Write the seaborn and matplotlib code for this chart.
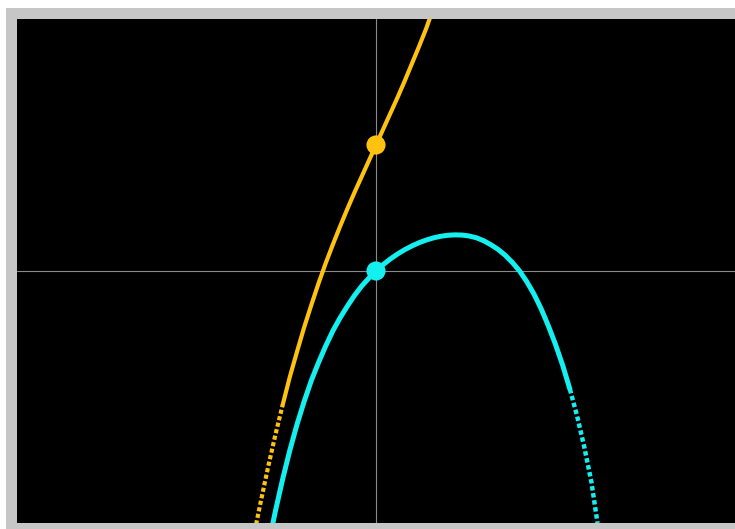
import numpy as np
import pandas as pd
import matplotlib
matplotlib.use("Agg")
import matplotlib.pyplot as plt
from matplotlib.patches import Rectangle
import seaborn as sns

# points (axis units, ~72 px per unit, origin at the crosshair)
cyan_x = [-1.44, -1.4, -1.3, -1.2, -1.1, -1.0, -0.9, -0.8, -0.7, -0.6, -0.5, -0.4,
          -0.3, -0.2, -0.1, 0.0, 0.1, 0.2, 0.3, 0.4, 0.5, 0.6, 0.7, 0.8, 0.9, 1.0,
          1.1, 1.2, 1.3, 1.4, 1.5, 1.6, 1.7, 1.8, 1.9, 2.0, 2.1, 2.2, 2.3, 2.4,
          2.5, 2.6, 2.7, 2.8, 2.9, 3.0, 3.085]
cyan_y = [-3.52, -3.33, -2.89, -2.49, -2.13, -1.81, -1.52, -1.27, -1.04, -0.83, -0.65, -0.49,
          -0.34, -0.21, -0.10, 0.0, 0.089, 0.167, 0.236, 0.296, 0.348, 0.393, 0.430, 0.460, 0.482, 0.496,
          0.502, 0.499, 0.486, 0.461, 0.42, 0.365, 0.30, 0.218, 0.118, 0.0, -0.148, -0.32, -0.525, -0.76,
          -1.02, -1.31, -1.64, -2.01, -2.44, -2.93, -3.50]

orange_x = [-1.67, -1.6, -1.5, -1.4, -1.3, -1.2, -1.1, -1.0, -0.9, -0.8, -0.7, -0.6,
            -0.5, -0.4, -0.3, -0.2, -0.1, 0.0, 0.1, 0.2, 0.3, 0.4, 0.5, 0.6, 0.7, 0.76]
orange_y = [-3.52, -3.18, -2.71, -2.27, -1.86, -1.47, -1.12, -0.78, -0.47, -0.17, 0.11, 0.37,
            0.62, 0.86, 1.09, 1.31, 1.53, 1.75, 1.97, 2.19, 2.41, 2.64, 2.88, 3.12, 3.37, 3.54]

# where the sampled curves break up into separate dots (steep ends)
cyan_dotted_from = 42    # index into cyan_x
orange_dotted_to = 4     # index into orange_x

# y-intercept points
dot_x = [0.0, 0.0]
dot_y = [1.75, 0.0]

ORANGE = "#ffc20e"
CYAN = "#14f0f0"

sns.set_style("dark")

fig = plt.figure(figsize=(7.35, 5.29), dpi=100)
fig.patch.set_facecolor("#c6c6c6")
# white outer edge of the frame (top / left)
fig.add_artist(Rectangle((0, 1 - 8 / 529), 1, 8 / 529, transform=fig.transFigure,
                         facecolor="white", edgecolor="none"))
fig.add_artist(Rectangle((0, 0), 6 / 735, 1, transform=fig.transFigure,
                         facecolor="white", edgecolor="none"))

ax = fig.add_axes([17 / 735, 6 / 529, 718 / 735, 504 / 529])
ax.set_facecolor("black")

ax.axhline(0, color="#8a8a8a", lw=0.8, zorder=1)
ax.axvline(0, color="#8a8a8a", lw=0.8, zorder=1)

c = cyan_dotted_from
o = orange_dotted_to

# orange: dotted lower end, solid rest
sns.lineplot(x=orange_x[:o + 1], y=orange_y[:o + 1], sort=False, estimator=None,
             color=ORANGE, lw=3.0, ax=ax, zorder=2)
ax.lines[-1].set_dashes([1.0, 0.6])
sns.lineplot(x=orange_x[o:], y=orange_y[o:], sort=False, estimator=None,
             color=ORANGE, lw=3.0, ax=ax, zorder=2)

# cyan: solid, then dotted right end
sns.lineplot(x=cyan_x[:c + 1], y=cyan_y[:c + 1], sort=False, estimator=None,
             color=CYAN, lw=3.6, ax=ax, zorder=2)
sns.lineplot(x=cyan_x[c:], y=cyan_y[c:], sort=False, estimator=None,
             color=CYAN, lw=3.2, ax=ax, zorder=2)
ax.lines[-1].set_dashes([1.0, 0.6])

sns.scatterplot(x=dot_x, y=dot_y, hue=["o", "c"], palette=[ORANGE, CYAN],
                s=190, edgecolor="none", legend=False, ax=ax, zorder=3)

ax.set_xlim(-5, 5)
ax.set_ylim(-3.5, 3.5)
ax.set_xlabel("")
ax.set_ylabel("")
ax.set_xticks([])
ax.set_yticks([])
ax.grid(False)
for s in ax.spines.values():
    s.set_visible(False)

fig.savefig("out.png", dpi=100, facecolor=fig.get_facecolor())
